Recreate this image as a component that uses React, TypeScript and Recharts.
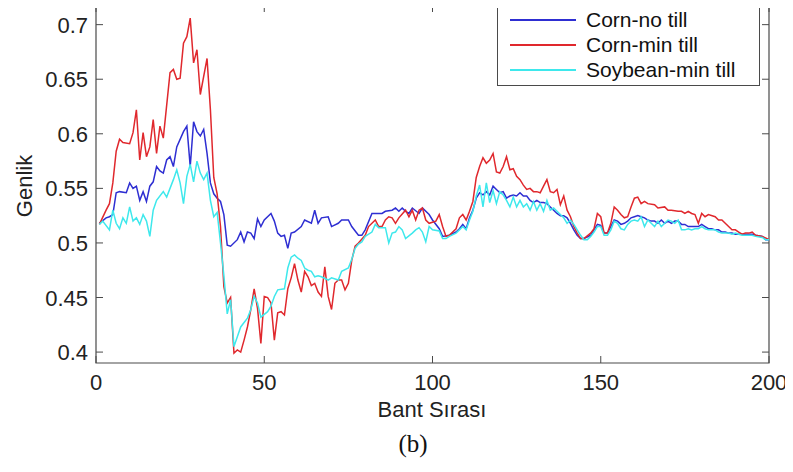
import * as React from "react";
import {
  LineChart,
  Line,
  XAxis,
  YAxis,
  ReferenceArea,
  Legend,
} from "recharts";

// band numbers and amplitudes (one x list per series)
const noTillBands = [
  1, 3, 4, 5, 6, 7, 9, 10, 11, 12, 13, 14, 15, 16, 17, 18, 19, 20, 21, 22, 23, 24, 26, 27, 28, 29, 30, 31, 32, 33, 34, 35,
  36, 37, 38, 39, 40, 42, 43, 44, 45, 46, 47, 48, 49, 50, 52, 53, 54, 55, 56, 57, 58, 59, 61, 62, 64, 65, 66, 67, 69, 70,
  72, 73, 75, 76, 78, 79, 80, 82, 83, 85, 86, 88, 89, 90, 91, 92, 93, 94, 96, 97, 99, 100, 102, 103, 105, 107, 108, 109,
  110, 111, 112, 113, 114, 115, 116, 117, 118, 119, 120, 121, 122, 123, 124, 125, 126, 127, 128, 129, 130, 131, 132, 133,
  134, 135, 136, 137, 138, 139, 140, 141, 142, 143, 144, 145, 147, 148, 149, 150, 151, 152, 153, 154, 155, 156, 157, 158,
  159, 160, 161, 162, 163, 164, 165, 166, 167, 168, 169, 170, 171, 172, 173, 174, 175, 176, 177, 178, 179, 180, 181, 182,
  183, 184, 185, 186, 187, 188, 189, 190, 191, 192, 193, 194, 195, 196, 198, 199, 200,
];
const noTill = [
  0.518, 0.523, 0.524, 0.526, 0.546, 0.547, 0.546, 0.555, 0.55, 0.552, 0.539, 0.547, 0.538, 0.552, 0.556, 0.57, 0.566,
  0.564, 0.576, 0.579, 0.57, 0.588, 0.602, 0.607, 0.57, 0.611, 0.602, 0.598, 0.604, 0.582, 0.555, 0.545, 0.541, 0.538,
  0.526, 0.498, 0.497, 0.503, 0.51, 0.501, 0.51, 0.509, 0.504, 0.522, 0.515, 0.521, 0.527, 0.52, 0.509, 0.506, 0.507,
  0.495, 0.509, 0.51, 0.515, 0.521, 0.518, 0.53, 0.518, 0.523, 0.524, 0.515, 0.518, 0.521, 0.521, 0.515, 0.507, 0.507,
  0.512, 0.527, 0.527, 0.527, 0.529, 0.53, 0.532, 0.529, 0.532, 0.529, 0.527, 0.532, 0.527, 0.532, 0.526, 0.521, 0.513,
  0.506, 0.507, 0.51, 0.513, 0.517, 0.513, 0.523, 0.53, 0.541, 0.546, 0.544, 0.547, 0.544, 0.552, 0.549, 0.546, 0.547,
  0.541, 0.543, 0.544, 0.543, 0.546, 0.543, 0.543, 0.539, 0.537, 0.539, 0.537, 0.537, 0.536, 0.533, 0.53, 0.527, 0.525,
  0.525, 0.523, 0.518, 0.512, 0.507, 0.504, 0.504, 0.507, 0.512, 0.517, 0.516, 0.509, 0.509, 0.515, 0.521, 0.52, 0.517,
  0.518, 0.52, 0.523, 0.524, 0.525, 0.524, 0.523, 0.521, 0.52, 0.52, 0.518, 0.521, 0.518, 0.52, 0.518, 0.52, 0.52,
  0.517, 0.517, 0.515, 0.515, 0.515, 0.515, 0.517, 0.515, 0.513, 0.513, 0.512, 0.512, 0.51, 0.51, 0.509, 0.509, 0.508,
  0.508, 0.508, 0.508, 0.508, 0.508, 0.507, 0.506, 0.503, 0.503,
];

const minTillBands = [
  1, 3, 4, 5, 6, 7, 8, 10, 11, 12, 13, 14, 15, 16, 17, 18, 19, 20, 22, 23, 24, 25, 26, 27, 28, 29, 30, 31, 33, 34, 35, 36,
  37, 38, 39, 40, 41, 42, 43, 44, 45, 46, 47, 48, 49, 50, 51, 52, 53, 54, 55, 56, 57, 58, 59, 60, 61, 62, 63, 64, 65, 66,
  67, 68, 69, 70, 71, 72, 73, 74, 75, 76, 77, 78, 80, 81, 83, 84, 85, 86, 87, 88, 89, 90, 92, 93, 94, 95, 96, 97, 98, 99,
  101, 102, 103, 104, 105, 107, 108, 109, 110, 111, 112, 113, 114, 115, 116, 117, 118, 119, 120, 121, 122, 123, 124, 125,
  126, 127, 128, 129, 130, 131, 132, 133, 134, 135, 136, 137, 138, 139, 140, 141, 142, 143, 144, 145, 147, 148, 149, 150,
  151, 152, 153, 154, 155, 156, 157, 158, 159, 160, 161, 162, 163, 164, 166, 167, 169, 170, 171, 173, 174, 175, 176, 177,
  178, 179, 180, 181, 182, 184, 185, 186, 187, 188, 189, 190, 191, 192, 193, 194, 195, 196, 198, 200,
];
const minTill = [
  0.517, 0.53, 0.536, 0.555, 0.584, 0.595, 0.592, 0.591, 0.601, 0.622, 0.576, 0.601, 0.579, 0.588, 0.613, 0.582, 0.607,
  0.596, 0.656, 0.659, 0.65, 0.651, 0.683, 0.689, 0.706, 0.665, 0.677, 0.636, 0.669, 0.622, 0.56, 0.545, 0.515, 0.46,
  0.445, 0.45, 0.399, 0.402, 0.4, 0.411, 0.423, 0.439, 0.458, 0.44, 0.408, 0.451, 0.45, 0.445, 0.411, 0.436, 0.437, 0.434,
  0.458, 0.468, 0.481, 0.466, 0.455, 0.474, 0.469, 0.461, 0.463, 0.455, 0.451, 0.478, 0.451, 0.439, 0.463, 0.466, 0.466,
  0.457, 0.463, 0.484, 0.497, 0.5, 0.507, 0.515, 0.521, 0.515, 0.515, 0.521, 0.524, 0.523, 0.518, 0.523, 0.53, 0.524,
  0.53, 0.521, 0.53, 0.532, 0.521, 0.518, 0.52, 0.526, 0.515, 0.506, 0.507, 0.513, 0.523, 0.526, 0.521, 0.529, 0.538,
  0.56, 0.57, 0.578, 0.573, 0.576, 0.582, 0.565, 0.564, 0.57, 0.579, 0.567, 0.568, 0.561, 0.558, 0.553, 0.549, 0.55,
  0.547, 0.547, 0.546, 0.552, 0.558, 0.547, 0.546, 0.549, 0.535, 0.543, 0.53, 0.524, 0.515, 0.509, 0.504, 0.504, 0.509,
  0.513, 0.527, 0.524, 0.509, 0.509, 0.518, 0.533, 0.53, 0.526, 0.523, 0.524, 0.533, 0.541, 0.542, 0.536, 0.538, 0.536,
  0.535, 0.532, 0.533, 0.53, 0.53, 0.529, 0.529, 0.527, 0.529, 0.527, 0.526, 0.518, 0.527, 0.524, 0.526, 0.524, 0.521,
  0.521, 0.518, 0.515, 0.512, 0.512, 0.51, 0.508, 0.509, 0.509, 0.51, 0.507, 0.506, 0.503,
];

const soyBands = [
  1, 2, 4, 5, 6, 7, 8, 9, 10, 11, 12, 13, 14, 15, 16, 17, 18, 20, 21, 23, 24, 25, 26, 27, 28, 29, 30, 31, 32, 33, 34, 35,
  36, 37, 38, 39, 40, 41, 42, 43, 45, 46, 47, 48, 49, 51, 52, 53, 54, 56, 57, 58, 59, 60, 61, 62, 63, 64, 65, 66, 67, 69,
  70, 72, 73, 75, 76, 77, 78, 79, 80, 82, 83, 84, 85, 86, 87, 88, 89, 90, 91, 92, 94, 95, 96, 97, 98, 99, 100, 102, 103,
  104, 105, 107, 108, 109, 110, 111, 112, 113, 114, 115, 116, 117, 118, 119, 120, 121, 122, 123, 124, 125, 126, 127, 128,
  129, 130, 131, 132, 133, 134, 135, 136, 137, 138, 139, 140, 141, 142, 143, 144, 145, 146, 147, 148, 149, 150, 151, 152,
  153, 154, 155, 156, 157, 158, 159, 160, 161, 162, 163, 164, 165, 166, 167, 168, 169, 170, 171, 172, 173, 174, 175, 176,
  177, 178, 179, 180, 181, 182, 183, 184, 185, 186, 187, 188, 189, 190, 191, 192, 193, 194, 195, 196, 198, 199, 200,
];
const soy = [
  0.517, 0.52, 0.512, 0.53, 0.518, 0.513, 0.523, 0.518, 0.533, 0.52, 0.523, 0.517, 0.526, 0.52, 0.506, 0.53, 0.539,
  0.547, 0.542, 0.558, 0.567, 0.555, 0.536, 0.561, 0.572, 0.556, 0.575, 0.564, 0.558, 0.564, 0.539, 0.524, 0.528, 0.5,
  0.47, 0.435, 0.448, 0.405, 0.414, 0.423, 0.431, 0.439, 0.451, 0.445, 0.432, 0.437, 0.442, 0.451, 0.457, 0.458, 0.477,
  0.487, 0.489, 0.486, 0.484, 0.477, 0.475, 0.474, 0.469, 0.47, 0.469, 0.466, 0.468, 0.466, 0.474, 0.477, 0.485, 0.495,
  0.499, 0.501, 0.506, 0.51, 0.517, 0.514, 0.514, 0.514, 0.5, 0.509, 0.51, 0.515, 0.512, 0.504, 0.509, 0.512, 0.514,
  0.51, 0.501, 0.515, 0.512, 0.511, 0.504, 0.504, 0.506, 0.509, 0.512, 0.515, 0.512, 0.521, 0.529, 0.543, 0.553, 0.533,
  0.555, 0.537, 0.548, 0.536, 0.547, 0.544, 0.539, 0.533, 0.542, 0.533, 0.539, 0.533, 0.536, 0.53, 0.538, 0.53, 0.536,
  0.529, 0.539, 0.53, 0.532, 0.529, 0.526, 0.523, 0.518, 0.521, 0.517, 0.512, 0.507, 0.503, 0.503, 0.506, 0.51, 0.515,
  0.515, 0.507, 0.507, 0.512, 0.52, 0.518, 0.513, 0.512, 0.517, 0.52, 0.521, 0.52, 0.524, 0.515, 0.521, 0.518, 0.515,
  0.52, 0.515, 0.518, 0.521, 0.52, 0.518, 0.521, 0.512, 0.512, 0.513, 0.512, 0.513, 0.513, 0.515, 0.513, 0.512, 0.512,
  0.512, 0.51, 0.509, 0.509, 0.509, 0.508, 0.509, 0.508, 0.507, 0.507, 0.507, 0.507, 0.506, 0.505, 0.503, 0.503,
];

const xTicks = [0, 50, 100, 150, 200];
const yTicks = [0.4, 0.45, 0.5, 0.55, 0.6, 0.65, 0.7];

const series = [
  { name: "Corn-no till", color: "#2e2ed2", bands: noTillBands, values: noTill },
  { name: "Corn-min till", color: "#e0282d", bands: minTillBands, values: minTill },
  { name: "Soybean-min till", color: "#3ee8ec", bands: soyBands, values: soy },
];

const W = 793;
const H = 472;
const PLOT_TOP = 5;
const PLOT_LEFT = 96;
const PLOT_RIGHT = 769;
const PLOT_BOTTOM = 363;
const FRAME = "#4a4a4a";
const SANS = '"Liberation Sans", Arial, Helvetica, sans-serif';

function XTick(props: any) {
  const { x, payload } = props;
  return (
    <g>
      <line x1={x} x2={x} y1={PLOT_BOTTOM} y2={PLOT_BOTTOM - 7} stroke={FRAME} />
      <line x1={x} x2={x} y1={PLOT_TOP} y2={PLOT_TOP + 7} stroke={FRAME} />
      <text x={x} y={PLOT_BOTTOM + 27} textAnchor="middle" fontSize={22} fill="#222" fontFamily={SANS}>
        {payload.value}
      </text>
    </g>
  );
}

function YTick(props: any) {
  const { y, payload } = props;
  return (
    <g>
      <line x1={PLOT_LEFT} x2={PLOT_LEFT + 7} y1={y} y2={y} stroke={FRAME} />
      <line x1={PLOT_RIGHT} x2={PLOT_RIGHT - 7} y1={y} y2={y} stroke={FRAME} />
      <text x={PLOT_LEFT - 8} y={y + 8} textAnchor="end" fontSize={22} fill="#222" fontFamily={SANS}>
        {payload.value}
      </text>
    </g>
  );
}

function LegendBox() {
  return (
    <div
      style={{
        border: `1px solid ${FRAME}`,
        background: "#fff",
        width: 261,
        padding: "1px 0 3px 0",
        fontFamily: SANS,
        fontSize: 21,
        color: "#111",
      }}
    >
      {series.map((s) => (
        <div key={s.name} style={{ display: "flex", alignItems: "center", height: 25 }}>
          <svg width={88} height={10} style={{ flex: "none" }}>
            <line x1={12} x2={78} y1={5} y2={5} stroke={s.color} strokeWidth={2} />
          </svg>
          <span style={{ whiteSpace: "nowrap" }}>{s.name}</span>
        </div>
      ))}
    </div>
  );
}

export default function App() {
  return (
    <div style={{ position: "relative", width: W, height: H, margin: -8, background: "#fff" }}>
      <LineChart
        width={W}
        height={H}
        margin={{ top: PLOT_TOP, right: W - PLOT_RIGHT, bottom: 0, left: 0 }}
      >
        <XAxis
          type="number"
          dataKey="band"
          domain={[0, 200]}
          ticks={xTicks}
          allowDataOverflow
          height={H - PLOT_BOTTOM}
          axisLine={false}
          tickLine={false}
          tickSize={0}
          tick={<XTick />}
        />
        <YAxis
          type="number"
          domain={[0.39, 0.718]}
          ticks={yTicks}
          allowDataOverflow
          width={PLOT_LEFT}
          axisLine={false}
          tickLine={false}
          tickSize={0}
          tick={<YTick />}
        />
        <ReferenceArea x1={0} x2={200} y1={0.39} y2={0.718} fill="none" stroke={FRAME} strokeWidth={1.2} />
        {series.map((s) => (
          <Line
            key={s.name}
            name={s.name}
            data={s.bands.map((b, i) => ({ band: b, value: s.values[i] }))}
            dataKey="value"
            type="linear"
            stroke={s.color}
            strokeWidth={1.5}
            dot={false}
            activeDot={false}
            isAnimationActive={false}
          />
        ))}
        <Legend
          layout="vertical"
          align="center"
          verticalAlign="middle"
          content={() => <LegendBox />}
          wrapperStyle={{ left: 497, top: PLOT_TOP, width: 263 }}
        />
      </LineChart>
      <div
        style={{
          position: "absolute",
          left: 25,
          top: 186,
          transform: "translate(-50%, -50%) rotate(-90deg)",
          fontFamily: SANS,
          fontSize: 22,
          color: "#222",
        }}
      >
        Genlik
      </div>
      <div
        style={{
          position: "absolute",
          left: 432,
          top: 410,
          transform: "translate(-50%, -50%)",
          fontFamily: SANS,
          fontSize: 22,
          color: "#222",
          whiteSpace: "nowrap",
        }}
      >
        Bant Sırası
      </div>
      <div
        style={{
          position: "absolute",
          left: 413,
          top: 444,
          transform: "translate(-50%, -50%)",
          fontFamily: '"Liberation Serif", "Times New Roman", serif',
          fontSize: 25,
          color: "#111",
        }}
      >
        (b)
      </div>
    </div>
  );
}
